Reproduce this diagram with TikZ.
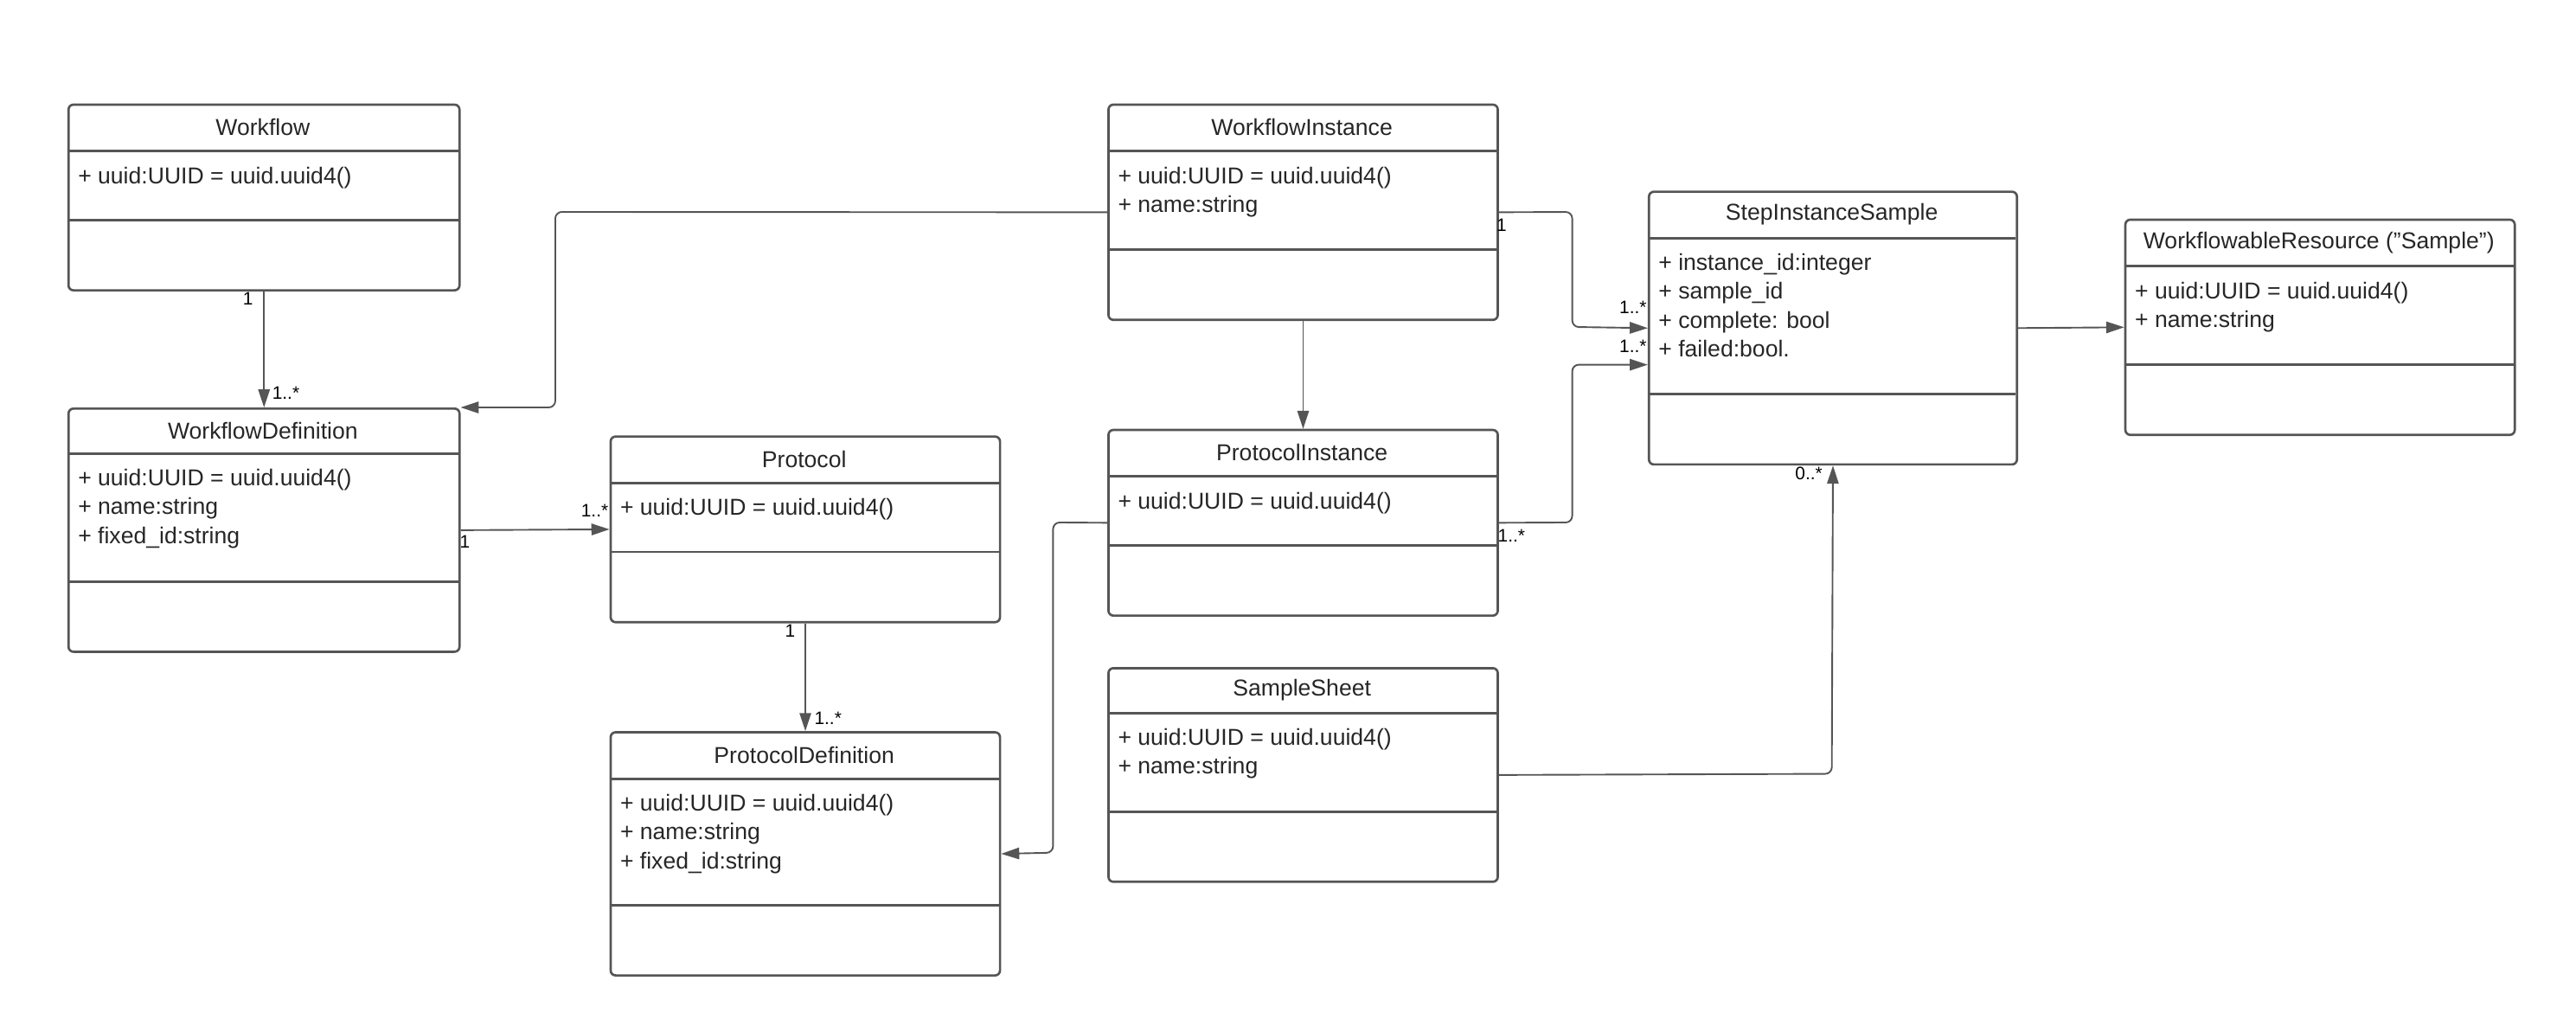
\documentclass[tikz,border=0pt]{standalone}
\usepackage{fontspec}
\setmainfont{Liberation Sans}
\usetikzlibrary{positioning,arrows.meta}
\definecolor{umlgray}{HTML}{555555}

% one class box: name, x, y, width, header height, attribute height, total height, title, attributes
\newcommand{\umlclass}[9]{%
  \node[umlbox, minimum width=#4pt, minimum height=#7pt, anchor=north west] (#1) at (#2,#3) {};
  \draw[umlbox] (#2,{#3+#5}) -- ++(#4,0);
  \draw[umlbox] (#2,{#3+#5+#6}) -- ++(#4,0);
  \node[classtitle] at ({#2+#4/2},{#3+#5/2}) {#8};
  \node[attrs] at ({#2+3},{#3+#5+6}) {#9};
}

\begin{document}
\begin{tikzpicture}[x=1pt,y=-1pt,
  umlbox/.style={draw=umlgray,line width=1.4pt,rounded corners=3pt,inner sep=0pt},
  classtitle/.style={font=\fontsize{14}{16}\selectfont,text=black!85},
  attrs/.style={anchor=north west,align=left,font=\fontsize{14}{17.5}\selectfont,text=black!85},
  link/.style={draw=umlgray,line width=1pt,rounded corners=4pt,-{Triangle[width=7pt,length=11pt]}},
  mult/.style={font=\fontsize{11}{12}\selectfont,inner sep=0pt}]
\useasboundingbox (0,0) rectangle (1568,628);

%---------------------Classes------------------%
\umlclass{wf}{41}{63}{238}{29}{42}{113}{Workflow}{+ uuid:UUID = uuid.uuid4()}
\umlclass{wfd}{41}{248}{238}{28}{78}{148}{WorkflowDefinition}{+ uuid:UUID = uuid.uuid4()\\+ name:string\\+ fixed\_id:string}
\umlclass{proto}{371}{265}{237}{29}{42}{113}{Protocol}{+ uuid:UUID = uuid.uuid4()}
\umlclass{pd}{371}{445}{237}{29}{77}{148}{ProtocolDefinition}{+ uuid:UUID = uuid.uuid4()\\+ name:string\\+ fixed\_id:string}
\umlclass{wi}{674}{63}{237}{29}{60}{131}{WorkflowInstance}{+ uuid:UUID = uuid.uuid4()\\+ name:string}
\umlclass{pi}{674}{261}{237}{29}{42}{113}{ProtocolInstance}{+ uuid:UUID = uuid.uuid4()}
\umlclass{ss}{674}{406}{237}{28}{60}{130}{SampleSheet}{+ uuid:UUID = uuid.uuid4()\\+ name:string}
\umlclass{sis}{1003}{116}{224}{29}{95}{166}{StepInstanceSample}{+ instance\_id:integer\\+ sample\_id\\+ complete: bool\\+ failed:bool.}
\umlclass{wr}{1293}{133}{237}{29}{60}{131}{WorkflowableResource ("Sample")}{+ uuid:UUID = uuid.uuid4()\\+ name:string}

%---------------------Associations------------------%
\draw[link] (wf.south) -- (wfd.north);
\draw[link] (wi.west) -- (338,129) -- (338,248) -- (wfd.north east);
\draw[link] (wfd.east) -- (proto.west);
\draw[link] (proto.south) -- (pd.north);
\draw[link] (wi.south) -- (pi.north);
\draw[link] (pi.west) -- (641,318) -- (641,519) -- (pd.east);
\draw[link] (wi.east) -- (957,129) -- (957,199) -- (sis.west);
\draw[link] (pi.east) -- (957,318) -- (957,222) -- (1003,222);
\draw[link] (ss.east) -- (1115,471) -- (sis.south);
\draw[link] (sis.east) -- (wr.west);

%---------------------Multiplicities------------------%
\node[mult] at (151,182) {1};
\node[mult] at (174,239) {1..*};
\node[mult] at (283,330) {1};
\node[mult] at (362,311) {1..*};
\node[mult] at (481,384) {1};
\node[mult] at (504,437) {1..*};
\node[mult] at (914,137) {1};
\node[mult] at (994,187) {1..*};
\node[mult] at (994,211) {1..*};
\node[mult] at (920,326) {1..*};
\node[mult] at (1101,288) {0..*};
\end{tikzpicture}
\end{document}
